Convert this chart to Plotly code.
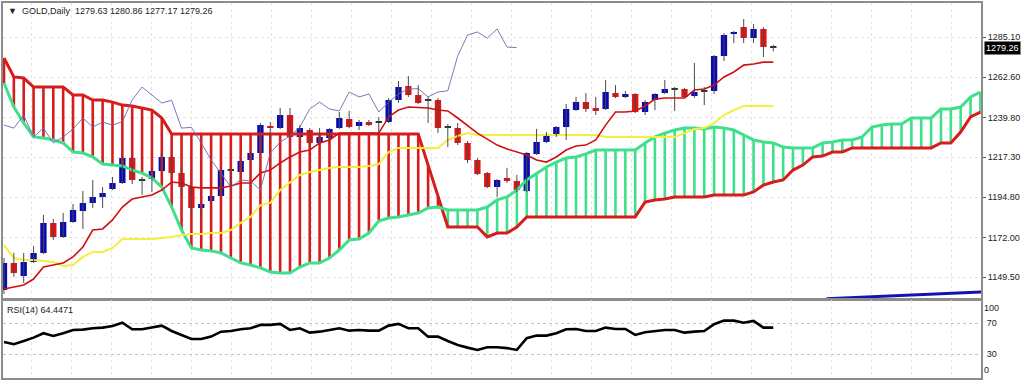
import plotly.graph_objects as go

# ---------------- data ----------------
symbol = "GOLD,Daily"
opens = [1142.3, 1157.6, 1150.2, 1158.1, 1163.2, 1180.2, 1172.3, 1180.7, 1186.9, 1191.5,
         1194.9, 1199.4, 1202.8, 1216.9, 1204.5, 1205.0, 1209.6, 1217.5, 1208.4, 1200.5,
         1188.7, 1192.6, 1195.4, 1210.1, 1209.0, 1215.8, 1219.7, 1235.0, 1233.8, 1241.2,
         1228.8, 1232.7, 1225.4, 1228.2, 1233.8, 1238.9, 1235.0, 1237.2, 1237.2, 1237.2,
         1249.7, 1257.6, 1252.5, 1249.7, 1249.7, 1234.6, 1233.8, 1225.4, 1215.8, 1208.4,
         1200.5, 1205.6, 1203.9, 1198.3, 1219.2, 1225.9, 1229.3, 1234.4, 1244.0, 1248.5,
         1245.2, 1244.6, 1253.6, 1251.4, 1253.1, 1242.9, 1249.7, 1253.6, 1255.9, 1255.9,
         1251.9, 1254.7, 1254.7, 1274.5, 1287.0, 1290.9, 1284.7, 1289.8, 1279.63]
highs = [1160.4, 1163.2, 1163.2, 1167.2, 1184.7, 1182.4, 1185.8, 1190.9, 1198.3, 1204.5,
         1200.5, 1206.2, 1218.0, 1218.0, 1206.2, 1211.3, 1219.7, 1218.6, 1211.3, 1201.6,
         1192.0, 1196.0, 1211.3, 1211.3, 1216.9, 1220.3, 1236.7, 1237.2, 1245.2, 1245.2,
         1235.5, 1233.8, 1233.8, 1233.8, 1242.9, 1243.5, 1238.4, 1238.4, 1240.0, 1250.8,
         1260.4, 1263.2, 1258.1, 1251.4, 1250.8, 1236.1, 1236.7, 1226.5, 1216.9, 1209.0,
         1205.0, 1211.3, 1207.3, 1220.3, 1233.3, 1231.6, 1235.0, 1247.4, 1251.4, 1253.6,
         1251.4, 1261.0, 1258.1, 1254.8, 1253.6, 1249.7, 1253.6, 1261.0, 1257.0, 1256.4,
         1270.6, 1257.0, 1275.1, 1287.5, 1288.7, 1295.4, 1292.6, 1290.9, 1280.86]
lows = [1140.1, 1149.7, 1146.3, 1157.6, 1162.6, 1170.6, 1171.7, 1180.2, 1176.8, 1188.7,
        1188.7, 1198.8, 1202.2, 1202.2, 1196.0, 1197.7, 1209.0, 1207.9, 1194.9, 1187.5,
        1183.6, 1192.0, 1194.9, 1200.5, 1208.4, 1214.6, 1219.2, 1227.1, 1233.3, 1228.2,
        1228.2, 1223.1, 1224.3, 1227.1, 1233.3, 1233.8, 1232.7, 1235.0, 1231.6, 1236.7,
        1248.0, 1251.4, 1247.4, 1236.7, 1231.0, 1223.1, 1224.3, 1214.1, 1207.3, 1199.9,
        1194.9, 1202.8, 1197.7, 1197.7, 1218.6, 1225.4, 1228.8, 1227.1, 1243.5, 1242.9,
        1241.2, 1244.0, 1250.8, 1250.8, 1242.3, 1241.2, 1244.0, 1253.1, 1243.5, 1250.8,
        1250.8, 1246.8, 1253.1, 1271.7, 1281.9, 1281.9, 1281.9, 1274.0, 1277.17]
closes = [1157.6, 1151.9, 1158.1, 1163.2, 1180.2, 1172.3, 1180.7, 1187.5, 1191.5, 1194.9,
          1197.1, 1202.8, 1216.9, 1204.5, 1204.3, 1209.6, 1217.5, 1208.4, 1200.5, 1188.7,
          1190.9, 1195.4, 1210.1, 1210.3, 1215.2, 1219.7, 1235.5, 1233.8, 1241.2, 1228.8,
          1233.8, 1225.4, 1228.8, 1233.3, 1239.5, 1234.4, 1237.2, 1235.5, 1237.4, 1249.7,
          1257.0, 1252.5, 1248.0, 1249.5, 1233.8, 1234.2, 1225.4, 1215.8, 1207.8, 1200.5,
          1204.5, 1203.9, 1198.8, 1219.7, 1225.9, 1229.3, 1234.4, 1244.6, 1248.5, 1244.6,
          1243.5, 1254.2, 1251.4, 1253.1, 1242.9, 1248.5, 1253.1, 1255.9, 1256.1, 1251.4,
          1254.2, 1254.9, 1274.5, 1286.4, 1288.1, 1284.7, 1289.8, 1279.6, 1279.26]

tenkan = [1142.9, 1144.0, 1145.1, 1148.5, 1155.3, 1156.4, 1157.6, 1161.0, 1166.6, 1176.2,
          1176.8, 1181.9, 1189.2, 1193.7, 1194.9, 1196.0, 1198.8, 1203.3, 1202.8, 1200.5,
          1200.0, 1200.0, 1200.0, 1201.1, 1202.8, 1202.8, 1208.4, 1210.1, 1214.1, 1217.5,
          1220.3, 1221.4, 1225.4, 1227.1, 1231.0, 1231.0, 1231.0, 1231.0, 1231.0, 1240.1,
          1244.0, 1245.7, 1245.4, 1245.2, 1244.0, 1243.5, 1239.5, 1235.5, 1231.0, 1227.6,
          1224.2, 1222.0, 1220.3, 1218.6, 1215.8, 1214.6, 1217.5, 1221.4, 1223.7, 1224.2,
          1227.1, 1235.5, 1242.9, 1242.9, 1243.5, 1246.3, 1250.2, 1250.8, 1250.8, 1250.8,
          1255.3, 1255.9, 1258.1, 1262.7, 1265.5, 1269.4, 1270.0, 1271.1, 1271.1]
kijun = [1167.7, 1160.4, 1159.3, 1159.3, 1158.7, 1158.1, 1155.9, 1156.4, 1161.0, 1163.8,
         1163.8, 1166.1, 1171.1, 1171.1, 1171.1, 1171.1, 1171.7, 1172.3, 1173.4, 1174.0,
         1174.0, 1174.5, 1174.5, 1176.2, 1180.2, 1183.6, 1190.3, 1191.5, 1198.8, 1203.3,
         1207.3, 1209.0, 1210.1, 1211.3, 1211.8, 1211.8, 1211.8, 1212.4, 1213.5, 1220.3,
         1222.6, 1222.6, 1222.6, 1222.6, 1222.6, 1227.1, 1229.3, 1231.0, 1229.9, 1229.9,
         1229.9, 1229.9, 1229.9, 1229.9, 1229.9, 1229.9, 1229.9, 1229.9, 1229.9, 1229.9,
         1229.9, 1228.8, 1228.8, 1228.8, 1228.8, 1228.8, 1228.8, 1228.8, 1228.8, 1231.0,
         1233.3, 1233.8, 1236.7, 1241.2, 1244.0, 1246.3, 1246.3, 1246.3, 1246.3]

# Senkou spans (already shifted 26 bars ahead, so they run past the last candle)
span_a = [1259.3, 1245.7, 1236.7, 1228.8, 1228.2, 1227.1, 1225.4, 1220.3, 1219.7, 1217.5,
          1213.5, 1212.9, 1212.4, 1210.1, 1208.4, 1205.6, 1200.5, 1189.2, 1176.2, 1166.1,
          1164.9, 1164.4, 1163.2, 1160.4, 1157.6, 1156.4, 1154.8, 1152.5, 1151.9, 1151.9,
          1155.3, 1157.6, 1157.6, 1160.4, 1164.9, 1170.6, 1171.1, 1174.5, 1181.3, 1183.0,
          1183.6, 1184.7, 1185.8, 1188.7, 1189.2, 1187.5, 1187.5, 1187.5, 1187.5, 1189.2,
          1193.2, 1194.9, 1198.8, 1204.5, 1208.4, 1211.8, 1214.6, 1216.9, 1217.5, 1219.2,
          1221.4, 1221.4, 1221.4, 1221.4, 1221.4, 1225.4, 1228.8, 1231.0, 1232.7, 1233.8,
          1233.8, 1233.3, 1234.4, 1233.8, 1232.7, 1229.9, 1227.1, 1225.9, 1225.4, 1223.1,
          1222.6, 1222.6, 1222.6, 1225.4, 1225.9, 1227.1, 1227.1, 1228.8, 1234.4, 1235.5,
          1236.1, 1236.1, 1239.5, 1239.5, 1239.5, 1244.6, 1244.6, 1245.7, 1251.4, 1254.2]
span_b = [1273.4, 1262.7, 1262.1, 1257.0, 1257.0, 1257.0, 1257.0, 1252.5, 1252.5, 1249.7,
          1249.7, 1248.5, 1246.8, 1246.3, 1245.2, 1244.0, 1239.5, 1230.5, 1230.5, 1230.5,
          1230.5, 1230.5, 1230.5, 1230.5, 1230.5, 1230.5, 1230.5, 1230.5, 1230.5, 1230.5,
          1230.5, 1230.5, 1230.5, 1230.5, 1230.5, 1230.5, 1230.5, 1230.5, 1230.5, 1230.5,
          1230.5, 1230.5, 1230.5, 1212.9, 1194.9, 1177.9, 1177.9, 1177.9, 1177.9, 1172.3,
          1174.5, 1174.5, 1177.9, 1183.6, 1183.6, 1183.6, 1183.6, 1183.6, 1183.6, 1183.6,
          1183.6, 1183.6, 1183.6, 1183.6, 1183.6, 1192.0, 1193.2, 1193.7, 1194.9, 1194.9,
          1194.9, 1194.9, 1196.0, 1196.0, 1196.0, 1196.0, 1197.7, 1201.6, 1203.3, 1204.5,
          1210.1, 1212.9, 1217.5, 1218.0, 1220.3, 1220.3, 1222.6, 1222.6, 1222.6, 1222.6,
          1222.6, 1222.6, 1222.6, 1222.6, 1222.6, 1225.4, 1225.4, 1231.6, 1240.1, 1242.9]

rsi = [45.9, 43.0, 47.2, 51.5, 57.2, 53.7, 57.2, 61.4, 61.8, 63.6,
       64.4, 66.6, 70.8, 62.3, 62.3, 64.4, 67.0, 60.1, 55.0, 49.8,
       49.8, 52.8, 59.2, 60.1, 62.3, 63.6, 67.9, 67.9, 69.2, 61.4,
       63.6, 57.9, 59.2, 61.4, 63.6, 60.5, 61.4, 60.5, 60.5, 67.0,
       69.2, 63.6, 63.6, 52.8, 52.8, 47.2, 42.1, 38.6, 35.6, 39.1,
       39.1, 38.0, 35.6, 50.7, 54.1, 54.1, 57.2, 62.3, 62.7, 60.1,
       60.1, 64.4, 62.7, 62.7, 55.0, 58.5, 60.1, 61.4, 61.4, 57.9,
       59.2, 60.1, 68.8, 73.4, 73.4, 70.8, 73.0, 64.4, 64.4471]

trend_idx = [83.4, 99.1]
trend_vals = [1137.4, 1141.2]

price_ticks = [1285.10, 1262.60, 1239.80, 1217.30, 1194.80, 1172.00, 1149.50]
rsi_levels = [70, 30]
rsi_period = 14
chikou_shift = 26

# ---------------- colours ----------------
BULL = "#0a0ab4"
BEAR = "#e01414"
DOJI = "#303030"
WICK = "#4a4a4a"
KUMO_RED = "#d81c1c"
KUMO_GREEN = "#3ee08c"
FONT = "Liberation Sans"

n = len(closes)
idx = list(range(n))

fig = go.Figure()

# Kumo hatching
rx, ry, gx, gy = [], [], [], []
for i, (a, b) in enumerate(zip(span_a, span_b)):
    if b > a:
        rx += [i, i, None]; ry += [a, b, None]
    else:
        gx += [i, i, None]; gy += [a, b, None]
fig.add_trace(go.Scatter(x=rx, y=ry, mode="lines", line=dict(color=KUMO_RED, width=2.6),
                         hoverinfo="skip"))
fig.add_trace(go.Scatter(x=gx, y=gy, mode="lines", line=dict(color=KUMO_GREEN, width=2.6),
                         hoverinfo="skip"))
cloud_idx = list(range(len(span_a)))
fig.add_trace(go.Scatter(x=cloud_idx, y=span_b, mode="lines", line=dict(color=KUMO_RED, width=3)))
fig.add_trace(go.Scatter(x=cloud_idx, y=span_a, mode="lines", line=dict(color=KUMO_GREEN, width=3)))

# Kijun, Tenkan, Chikou
fig.add_trace(go.Scatter(x=idx, y=kijun, mode="lines", line=dict(color="#f6ee3c", width=2)))
fig.add_trace(go.Scatter(x=idx, y=tenkan, mode="lines", line=dict(color="#d01010", width=1.6)))
ch_x = [i - chikou_shift for i in range(chikou_shift, n)]
ch_y = closes[chikou_shift:]
fig.add_trace(go.Scatter(x=ch_x, y=ch_y, mode="lines", line=dict(color="#6a6ab4", width=0.9)))

# trend line bottom right
fig.add_trace(go.Scatter(x=trend_idx, y=trend_vals, mode="lines", line=dict(color="#1212b0", width=3)))

# Candles: wicks
wx, wy = [], []
for i in idx:
    wx += [i, i, None]; wy += [lows[i], highs[i], None]
fig.add_trace(go.Scatter(x=wx, y=wy, mode="lines", line=dict(color=WICK, width=1), hoverinfo="skip"))

# Candles: bodies
bases, heights, cols = [], [], []
for o, c in zip(opens, closes):
    lo, hi = min(o, c), max(o, c)
    h = hi - lo
    if h < 0.5:
        cols.append(DOJI); h = 0.6; lo = (o + c) / 2 - 0.3
    else:
        cols.append(BULL if c > o else BEAR)
    bases.append(lo); heights.append(h)
fig.add_trace(go.Bar(x=idx, y=heights, base=bases, width=0.64, marker=dict(color=cols, line=dict(width=0))))

# RSI
fig.add_trace(go.Scatter(x=idx, y=rsi, mode="lines", line=dict(color="#000000", width=2.6),
                         xaxis="x2", yaxis="y2"))

x_range = [-0.1, 99.06]
grid = "#e4e4e4"
frame = "#8c8c8c"

fig.update_layout(
    width=1024, height=380,
    margin=dict(l=3, r=43, t=3, b=2),
    paper_bgcolor="white", plot_bgcolor="white",
    showlegend=False, barmode="overlay",
    font=dict(family=FONT, size=9, color="#222"),
    xaxis=dict(domain=[0, 1], range=x_range, anchor="y", showticklabels=False, ticks="",
               showgrid=True, gridcolor=grid, griddash="dot", tick0=2.79, dtick=4.0556,
               zeroline=False, showline=True, linecolor=frame, linewidth=2, mirror=True),
    yaxis=dict(domain=[0.212, 1], range=[1137.5, 1304.5], side="right",
               tickvals=price_ticks, ticktext=[f"{v:.2f}" for v in price_ticks],
               tickfont=dict(family=FONT, size=9, color="#222"),
               ticks="outside", ticklen=3, tickcolor="#555",
               showgrid=True, gridcolor=grid, griddash="dot", zeroline=False,
               showline=True, linecolor=frame, linewidth=2, mirror=True),
    xaxis2=dict(domain=[0, 1], range=x_range, anchor="y2", showticklabels=False, ticks="",
                showgrid=True, gridcolor=grid, griddash="dot", tick0=2.79, dtick=4.0556,
                zeroline=False, showline=True, linecolor=frame, linewidth=2, mirror=True),
    yaxis2=dict(domain=[0, 0.2067], range=[-0.58, 99.4], side="right", anchor="x2",
                tickvals=rsi_levels, ticktext=[str(v) for v in rsi_levels],
                tickfont=dict(family=FONT, size=9, color="#222"),
                ticks="", ticklabelstandoff=2,
                showgrid=True, gridcolor="#c4c4c4", griddash="dot", zeroline=False,
                showline=True, linecolor=frame, linewidth=2, mirror=True),
)

ann = []
ann.append(dict(xref="paper", yref="paper", x=0.003, y=0.979, xanchor="left", yanchor="middle",
                text=f"▼  {symbol}  {opens[-1]:.2f} {highs[-1]:.2f} {lows[-1]:.2f} {closes[-1]:.2f}",
                showarrow=False, font=dict(family=FONT, size=9, color="#222")))
ann.append(dict(xref="paper", yref="y", x=1.0, y=closes[-1], xanchor="left", yanchor="middle",
                xshift=3, text=f"{closes[-1]:.2f}", showarrow=False, bgcolor="#000000",
                borderpad=1, font=dict(family=FONT, size=9, color="#ffffff")))
ann.append(dict(xref="paper", yref="paper", x=0.002, y=0.2067, xanchor="left", yanchor="top",
                yshift=-3, text=f"RSI({rsi_period}) {rsi[-1]:.4f}", showarrow=False,
                font=dict(family=FONT, size=9, color="#222")))
ann.append(dict(xref="paper", yref="paper", x=1.0, y=0.2067, xanchor="left", yanchor="top",
                xshift=1, yshift=-1, text="100", showarrow=False,
                font=dict(family=FONT, size=9, color="#222")))
ann.append(dict(xref="paper", yref="paper", x=1.0, y=0.0, xanchor="left", yanchor="bottom",
                xshift=1, yshift=1, text="0", showarrow=False,
                font=dict(family=FONT, size=9, color="#222")))
fig.update_layout(annotations=ann)

fig.write_html("out.html", config={"displayModeBar": False},
               post_script="document.body.style.margin='0';document.body.style.overflow='hidden';")
